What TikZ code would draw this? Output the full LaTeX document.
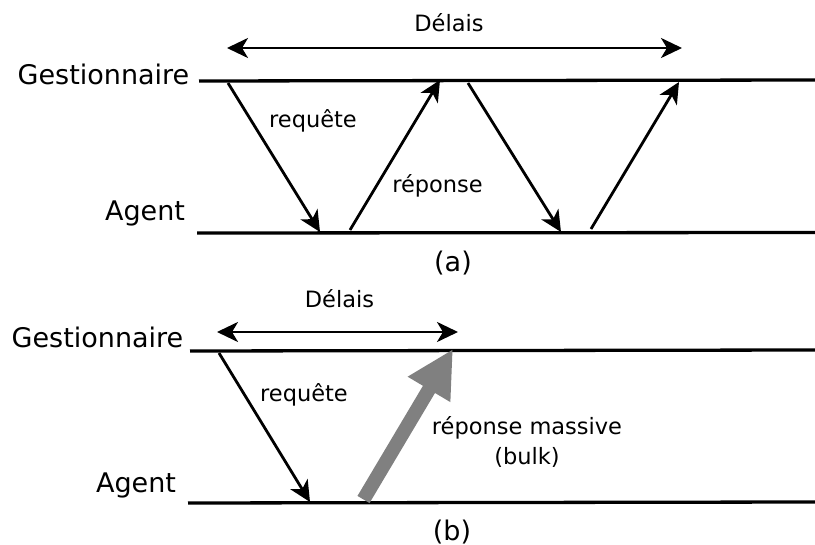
\documentclass[tikz,border=0pt]{standalone}
\usepackage{fontspec}
\setmainfont{DejaVu Sans}
\usetikzlibrary{arrows.meta}
\begin{document}
\begin{tikzpicture}[x=1pt,y=-1pt,
  big/.style={font=\fontsize{27}{32}\selectfont, inner sep=0pt, anchor=base},
  small/.style={font=\fontsize{22.5}{27}\selectfont, inner sep=0pt, anchor=base},
  timeline/.style={line width=3.3pt},
  msg/.style={line width=2.8pt, -{Stealth[length=21pt,width=20pt,inset=6pt]}},
  delay/.style={line width=2.8pt, {Stealth[length=21pt,width=20pt,inset=6pt]}-{Stealth[length=21pt,width=20pt,inset=6pt]}},
  bulk/.style={line width=14pt, draw=gray, line cap=butt, -{Triangle[length=47pt,width=46pt,fill=gray]}}
]
\useasboundingbox (0,0) rectangle (815,545);

% ---------- (a) ----------
\node[small] (delaisA) at (449,32) {Délais};
\node[big] (gestA) at (103.5,85) {Gestionnaire};
\node[big] (agentA) at (145,221) {Agent};
\node[small] (reqA) at (313,128) {requête};
\node[small] (repA) at (437.5,193) {réponse};
\node[big] (labA) at (453,271.5) {(a)};

\coordinate (gA1) at (199,81);
\coordinate (gA2) at (815,80);
\coordinate (aA1) at (197,233);
\coordinate (aA2) at (815,232.5);
\draw[timeline] (gA1) -- (gA2);
\draw[timeline] (aA1) -- (aA2);

\coordinate (dA1) at (227,48);
\coordinate (dA2) at (682,48);
\draw[delay] (dA1) -- (dA2);

\coordinate (m1s) at (228,83);  \coordinate (m1e) at (320,232);
\coordinate (m2s) at (350,230); \coordinate (m2e) at (440,80);
\coordinate (m3s) at (468,83);  \coordinate (m3e) at (561,232);
\coordinate (m4s) at (591,229); \coordinate (m4e) at (679,82);
\draw[msg] (m1s) -- (m1e);
\draw[msg] (m2s) -- (m2e);
\draw[msg] (m3s) -- (m3e);
\draw[msg] (m4s) -- (m4e);

% ---------- (b) ----------
\node[small] (delaisB) at (339.5,308) {Délais};
\node[big] (gestB) at (97.5,348) {Gestionnaire};
\node[big] (agentB) at (136,493) {Agent};
\node[small] (reqB) at (304,402) {requête};
\node[small] (repB) at (527,435) {réponse massive};
\node[small] (bulkB) at (527,465) {(bulk)};
\node[big] (labB) at (452,540) {(b)};

\coordinate (gB1) at (190,351);
\coordinate (gB2) at (815,350);
\coordinate (aB1) at (188,503);
\coordinate (aB2) at (815,502);
\draw[timeline] (gB1) -- (gB2);
\draw[timeline] (aB1) -- (aB2);

\coordinate (dB1) at (217,332);
\coordinate (dB2) at (458,332);
\draw[delay] (dB1) -- (dB2);

\coordinate (r1s) at (219,353); \coordinate (r1e) at (310,502);
\draw[msg] (r1s) -- (r1e);

\coordinate (bs) at (363.5,499.5); \coordinate (be) at (453,349);
\draw[bulk] (bs) -- (be);
\end{tikzpicture}
\end{document}
